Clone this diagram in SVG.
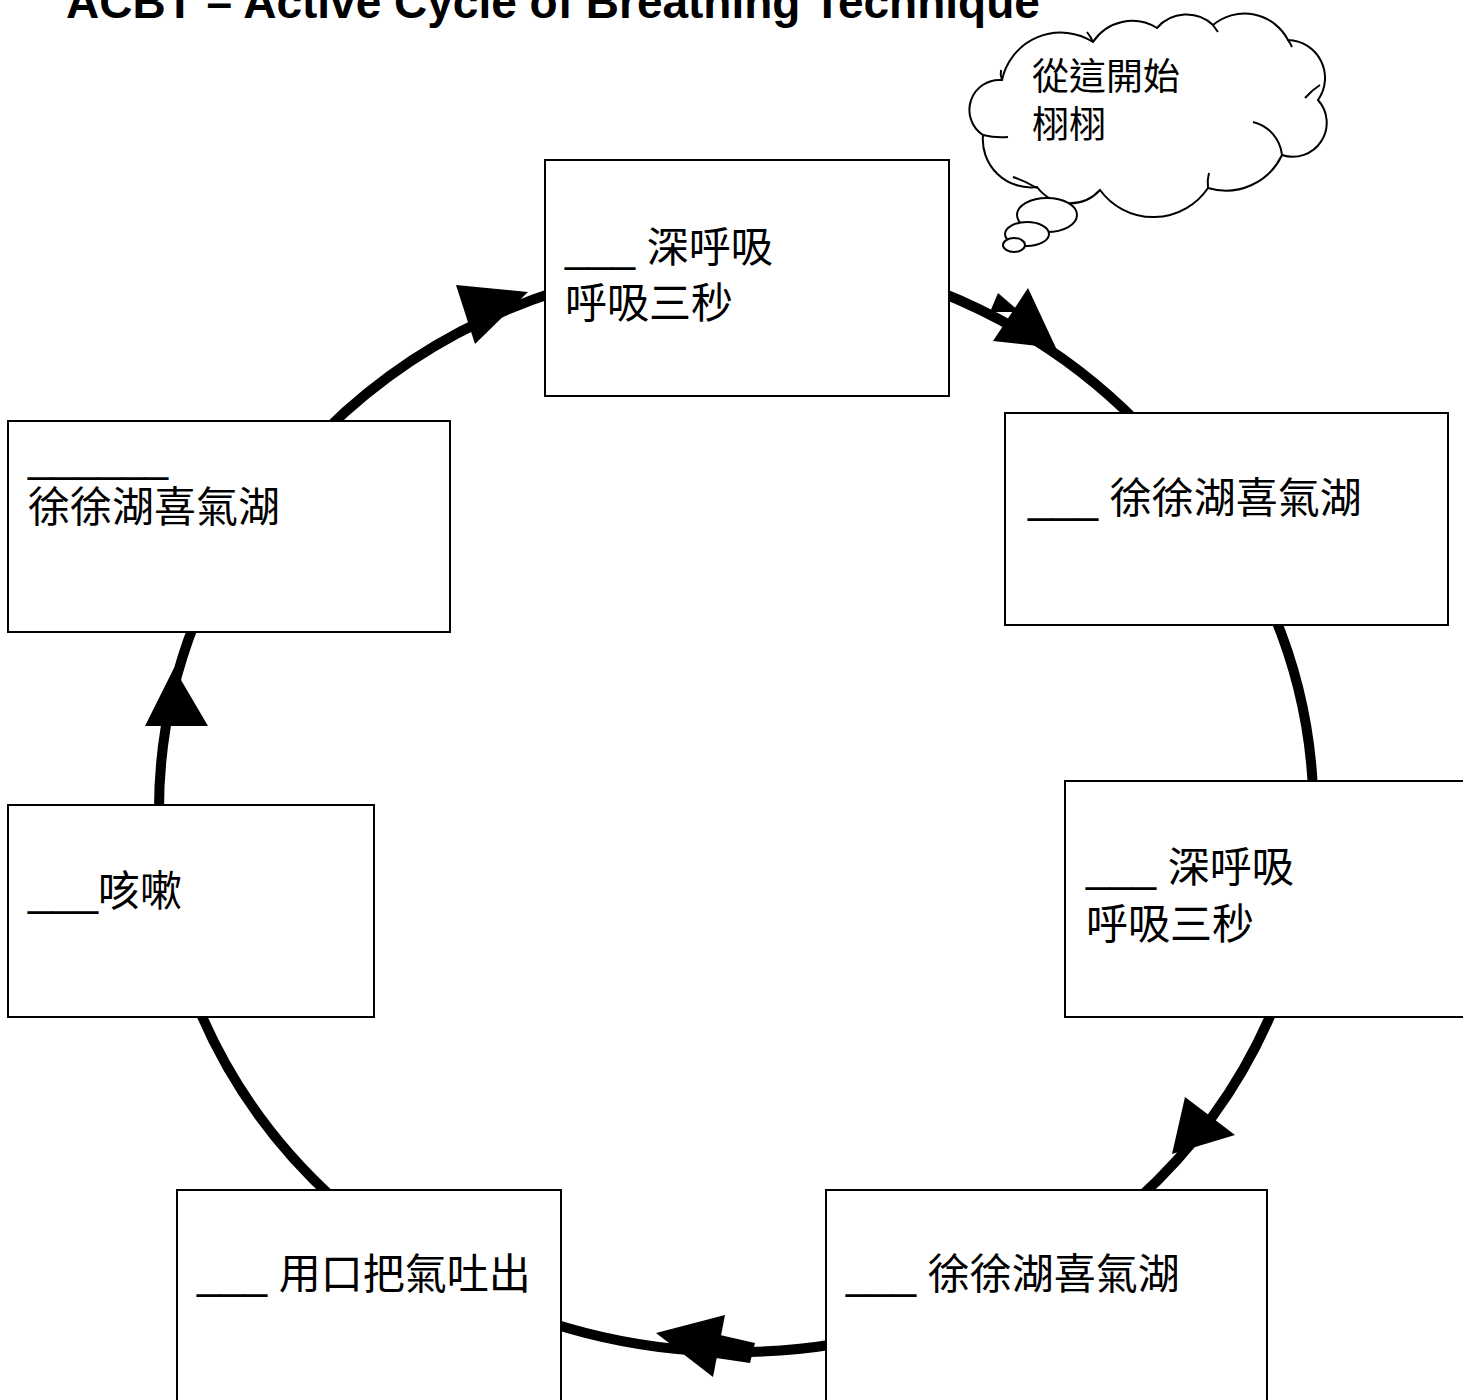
<svg xmlns="http://www.w3.org/2000/svg" width="1463" height="1400" viewBox="0 0 1463 1400">
<style>
.box{fill:#fff;stroke:#000;stroke-width:2}
.lbl{font-family:"Liberation Sans","Noto Sans CJK TC",sans-serif;font-size:42px;fill:#000}
.cl{font-family:"Liberation Sans","Noto Sans CJK TC",sans-serif;font-size:37px;fill:#000}
.conn{fill:none;stroke:#000;stroke-width:10}
.head{fill:#000;stroke:none}
.cloud{fill:#fff;stroke:#000;stroke-width:2}
.tick{fill:none;stroke:#000;stroke-width:2}
</style>
<rect width="1463" height="1400" fill="#fff"/>
<text x="66" y="18" font-family="Liberation Sans, Arial, sans-serif" font-weight="bold" font-size="46">ACBT – Active Cycle of Breathing Technique</text>
<g id="connectors">
<path class="conn" d="M159,815 A577,541 0 0 1 195,622"/>
<polygon class="head" points="174,668 145,726 208,726"/>
<path class="conn" d="M325,431 A577,541 0 0 1 555,292"/>
<polygon class="head" points="456,285 475,344 528,292"/>
<path class="conn" d="M940,292 A577,541 0 0 1 1138,423"/>
<polygon class="head" points="1028,288 993,341 1056,348"/>
<polygon class="head" points="998,293 990,312 1020,312"/>
<path class="conn" d="M1274,615 A577,541 0 0 1 1313,791"/>
<path class="conn" d="M1274,1007 A577,541 0 0 1 1137,1200"/>
<polygon class="head" points="1185,1097 1235,1135 1172,1154"/>
<path class="conn" d="M836,1344 A577,541 0 0 1 551,1323"/>
<polygon class="head" points="725,1315 713,1377 656,1333"/>
<polygon class="head" points="720,1335 755,1343 750,1363 716,1358"/>
<path class="conn" d="M335,1200 A577,541 0 0 1 198,1007"/>
</g>
<g id="node-top">
<rect class="box" x="545" y="160" width="404" height="236"/>
<text class="lbl" x="565" y="262">___ 深呼吸</text>
<text class="lbl" x="565" y="318">呼吸三秒</text>
</g>
<g id="node-right-top">
<rect class="box" x="1005" y="413" width="443" height="212"/>
<text class="lbl" x="1028" y="513">___ 徐徐湖喜氣湖</text>
</g>
<g id="node-right-mid">
<rect class="box" x="1065" y="781" width="420" height="236"/>
<text class="lbl" x="1086" y="882">___ 深呼吸</text>
<text class="lbl" x="1086" y="939">呼吸三秒</text>
</g>
<g id="node-bottom-right">
<rect class="box" x="826" y="1190" width="441" height="240"/>
<text class="lbl" x="846" y="1289">___ 徐徐湖喜氣湖</text>
</g>
<g id="node-bottom-left">
<rect class="box" x="177" y="1190" width="384" height="240"/>
<text class="lbl" x="197" y="1289">___ 用口把氣吐出</text>
</g>
<g id="node-left-low">
<rect class="box" x="8" y="805" width="366" height="212"/>
<text class="lbl" x="28" y="906">___咳嗽</text>
</g>
<g id="node-left-up">
<rect class="box" x="8" y="421" width="442" height="211"/>
<text class="lbl" x="28" y="472">______</text>
<text class="lbl" x="28" y="522">徐徐湖喜氣湖</text>
</g>
<g id="callout">
<path class="cloud" d="M983,135 A30,30 0 0 1 1002,80 A60,60 0 0 1 1093,42 A47,47 0 0 1 1157,28 A39,39 0 0 1 1213,25 A49,49 0 0 1 1288,40 A38,38 0 0 1 1318,100 A34,34 0 0 1 1282,155 A62,62 0 0 1 1208,188 A66,66 0 0 1 1100,190 A41,41 0 0 1 1037,187 A48,48 0 0 1 983,135 Z"/>
<path class="tick" d="M1002,80 q-2,-5 -1,-10"/>
<path class="tick" d="M983,135 q12,3 25,2"/>
<path class="tick" d="M1253,122 A38,38 0 0 1 1282,155"/>
<path class="tick" d="M1208,188 q-1,-8 1,-15"/>
<path class="tick" d="M1013,177 q12,4 24,11"/>
<path class="tick" d="M1305,98 q7,-8 15,-13"/>
<path class="tick" d="M1093,42 q-2,-5 -6,-10"/>
<path class="tick" d="M1213,25 q2,3 5,7"/>
<path class="tick" d="M1288,40 q2,3 4,7"/>
<ellipse class="cloud" cx="1047" cy="215" rx="30" ry="17"/>
<ellipse class="cloud" cx="1027" cy="234" rx="22" ry="12"/>
<ellipse class="cloud" cx="1014" cy="245" rx="11" ry="7"/>
<text class="cl" x="1032" y="90">從這開始</text>
<text class="cl" x="1032" y="138">栩栩</text>
</g>
</svg>
